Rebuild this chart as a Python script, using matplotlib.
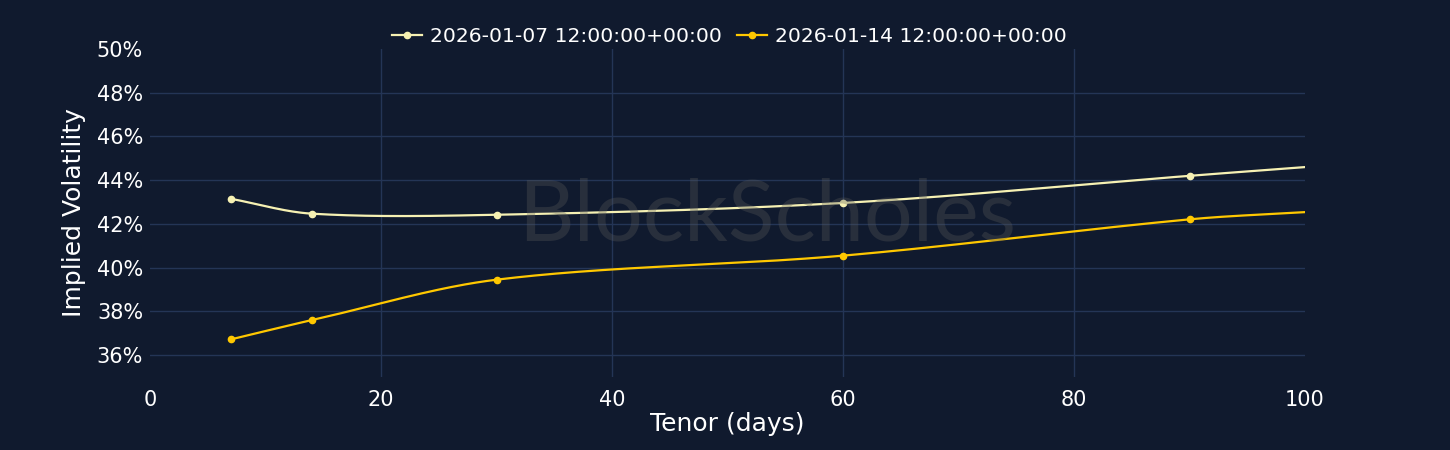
import numpy as np
import matplotlib
matplotlib.use("Agg")
import matplotlib.pyplot as plt
from matplotlib.ticker import FuncFormatter

# tenors (days) with markers, and the curve value where it leaves the chart at 100d
tenors = [7, 14, 30, 60, 90]
iv_0107 = [43.15, 42.47, 42.42, 42.96, 44.20]
iv_0114 = [36.72, 37.60, 39.45, 40.55, 42.21]
edge_tenor = 100
edge_0107 = 44.60
edge_0114 = 42.54
labels = ["2026-01-07 12:00:00+00:00", "2026-01-14 12:00:00+00:00"]
colors = ["#f6f1b3", "#ffc800"]

BG = "#101a2e"
GRID = "#243556"


def smooth(xs, ys, n=400):
    # cubic hermite with catmull-rom style tangents
    xs = np.asarray(xs, float)
    ys = np.asarray(ys, float)
    m = np.zeros_like(ys)
    m[0] = (ys[1] - ys[0]) / (xs[1] - xs[0])
    m[-1] = (ys[-1] - ys[-2]) / (xs[-1] - xs[-2])
    for i in range(1, len(xs) - 1):
        m[i] = (ys[i + 1] - ys[i - 1]) / (xs[i + 1] - xs[i - 1])
    xx = np.linspace(xs[0], xs[-1], n)
    yy = np.empty_like(xx)
    for k, x in enumerate(xx):
        i = min(np.searchsorted(xs, x, side="right") - 1, len(xs) - 2)
        h = xs[i + 1] - xs[i]
        t = (x - xs[i]) / h
        h00 = 2 * t**3 - 3 * t**2 + 1
        h10 = t**3 - 2 * t**2 + t
        h01 = -2 * t**3 + 3 * t**2
        h11 = t**3 - t**2
        yy[k] = h00 * ys[i] + h10 * h * m[i] + h01 * ys[i + 1] + h11 * h * m[i + 1]
    return xx, yy


fig = plt.figure(figsize=(14.5, 4.5), dpi=100, facecolor=BG)
ax = fig.add_axes([150 / 1450, 1 - 377 / 450, 1155 / 1450, 328 / 450])
ax.set_facecolor(BG)

for vals, edge, lab, c in [(iv_0107, edge_0107, labels[0], colors[0]),
                           (iv_0114, edge_0114, labels[1], colors[1])]:
    xx, yy = smooth(tenors + [edge_tenor], vals + [edge])
    ax.plot(xx, yy, color=c, lw=1.6, zorder=3)
    ax.plot(tenors, vals, "o", color=c, ms=4.5, zorder=4)
    ax.plot([], [], "-o", color=c, lw=1.6, ms=4.5, label=lab)

ax.text(0.534, 0.49, "BlockScholes", transform=ax.transAxes, ha="center", va="center",
        fontsize=62, color="#5a5a5a", alpha=0.33, family="Lato", zorder=5)

ax.set_xlim(0, 100)
ax.set_ylim(35, 50)
ax.set_xticks([0, 20, 40, 60, 80, 100])
ax.set_yticks([36, 38, 40, 42, 44, 46, 48, 50])
ax.yaxis.set_major_formatter(FuncFormatter(lambda v, p: f"{v:.0f}%"))
ax.grid(True, color=GRID, lw=1)
ax.set_axisbelow(True)
ax.xaxis.get_gridlines()[0].set_visible(False)
ax.xaxis.get_gridlines()[-1].set_visible(False)
ax.yaxis.get_gridlines()[-1].set_visible(False)
for s in ax.spines.values():
    s.set_visible(False)
ax.tick_params(length=0, colors="white", labelsize=15, pad=5)
ax.tick_params(axis="x", pad=9)

ax.set_xlabel("Tenor (days)", color="white", fontsize=18, labelpad=2)
ax.set_ylabel("Implied Volatility", color="white", fontsize=18, labelpad=8)

leg = fig.legend(loc="center", bbox_to_anchor=(0.503, 1 - 37 / 450), ncol=2, frameon=False,
                 fontsize=14.6, handlelength=1.5, columnspacing=0.7, handletextpad=0.4)
for t in leg.get_texts():
    t.set_color("white")

fig.savefig("out.png", dpi=100, facecolor=BG)
